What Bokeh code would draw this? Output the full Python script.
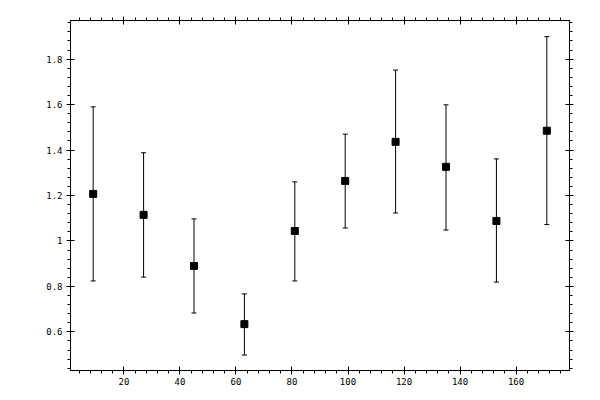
from bokeh.plotting import figure
from bokeh.models import (ColumnDataSource, Whisker, TeeHead, LinearAxis,
                          SingleIntervalTicker, CustomJSTickFormatter, Range1d,
                          CustomLabelingPolicy)
from bokeh.embed import file_html
from bokeh.resources import INLINE

x_vals = [9, 27, 45, 63, 81, 99, 117, 135, 153, 171]
y_vals = [1.207, 1.115, 0.890, 0.634, 1.044, 1.264, 1.436, 1.326, 1.088, 1.485]
y_upper = [1.590, 1.388, 1.097, 0.767, 1.260, 1.470, 1.752, 1.599, 1.361, 1.899]
y_lower = [0.824, 0.841, 0.683, 0.498, 0.824, 1.057, 1.123, 1.048, 0.819, 1.072]

src = ColumnDataSource(dict(x=x_vals, y=y_vals, upper=y_upper, lower=y_lower))

p = figure(width=592, height=392, output_backend="svg", toolbar_location=None,
           x_range=Range1d(0.9, 179.1), y_range=Range1d(0.43, 1.97),
           x_axis_location=None, y_axis_location=None,
           min_border_left=70, min_border_right=22, min_border_top=20, min_border_bottom=22)
p.grid.visible = False
p.outline_line_color = "black"
p.background_fill_color = "white"
p.border_fill_color = "white"

fmt = CustomJSTickFormatter(code="return String(Math.round(tick*10)/10);")
hide_labels = CustomLabelingPolicy(code="""
try { indices.clear(); } catch (e) { for (const i of Array.from(indices)) indices.unset(i); }
return indices;
""")

def style(ax, labels=True):
    ax.axis_line_color = "black"
    ax.axis_line_width = 1
    ax.major_tick_line_color = "black"
    ax.minor_tick_line_color = "black"
    ax.major_tick_in = 4
    ax.major_tick_out = 4
    ax.minor_tick_in = 0
    ax.minor_tick_out = 3
    ax.major_label_text_font = "DejaVu Sans Mono"
    ax.major_label_text_font_size = "9px"
    ax.major_label_text_color = "black"
    if not labels:
        ax.major_label_policy = hide_labels
        ax.major_label_standoff = 0

for loc in ["below", "above"]:
    ax = LinearAxis(ticker=SingleIntervalTicker(interval=20, num_minor_ticks=5), formatter=fmt)
    style(ax, labels=(loc == "below"))
    if loc == "below":
        ax.major_label_standoff = 3
    p.add_layout(ax, loc)

for loc in ["left", "right"]:
    ax = LinearAxis(ticker=SingleIntervalTicker(interval=0.2, num_minor_ticks=5), formatter=fmt)
    style(ax, labels=(loc == "left"))
    if loc == "left":
        ax.major_label_standoff = 4
    p.add_layout(ax, loc)

w = Whisker(source=src, base="x", upper="upper", lower="lower",
            line_color="black", line_width=1,
            upper_head=TeeHead(size=5, line_color="black", line_width=1),
            lower_head=TeeHead(size=5, line_color="black", line_width=1))
p.add_layout(w)

p.scatter("x", "y", source=src, marker="square", size=7,
          fill_color="black", line_color="black")

open("out.html", "w").write(file_html(p, INLINE))
